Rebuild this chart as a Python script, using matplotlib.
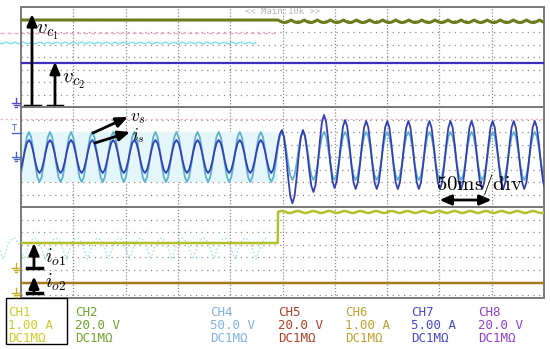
import numpy as np
import matplotlib
matplotlib.use("Agg")
import matplotlib.pyplot as plt
from matplotlib.patches import Rectangle
from matplotlib.lines import Line2D

W, H = 550, 349
plt.rcParams['mathtext.fontset'] = 'cm'

# ---------------- data ----------------
time_div_ms = 50
n_div = 10
t_end = time_div_ms * n_div          # 500 ms on screen

line_period_ms = 20.15               # grid-frequency period
first_peak_ms = 7.6                  # time of first positive peak
step_ms = 245.7                      # load step instant

# panel "divisions" (0 = bottom of panel, 8 = top)
vc1_level = 6.96
vc1_ripple_after = 0.20
vc1_ripple_period_ms = 12.5
vc2_level = 3.52

# i_s (dark blue): extremes per half cycle
is_troughs = [2.72] * 13 + [0.30, 1.20, 1.52] + [1.44] * 10   # k = -1 .. 24
is_peaks = [5.36] * 12 + [6.16, 6.16, 7.36, 6.96] + [6.88] * 9  # k = 0 .. 24
# v_s (light blue)
vs_troughs = [2.00] * 13 + [2.16] * 13
vs_peaks = [6.00] * 25

io1_before = 5.12
io1_after = 7.60
io1_ripple = 0.08
io1_ripple_period_ms = 15.0
io2_level = 1.92

channels = ["CH1", "CH2", "CH4", "CH5", "CH6", "CH7", "CH8"]
scales = ["1.00 A", "20.0 V", "50.0 V", "20.0 V", "1.00 A", "5.00 A", "20.0 V"]
couplings = ["DC1MΩ"] * 7
ch_colors = ["#cccc22", "#6ea82a", "#80b2e0", "#b04028", "#c0a232", "#4848d0", "#9040d0"]
ch_x_px = [8, 75, 210, 278, 345, 411, 478]

# ---------------- helpers ----------------
def extremes_wave(troughs, peaks):
    half = line_period_ms / 2
    times, vals = [], []
    for k in range(len(troughs)):
        tt = first_peak_ms - half + k * line_period_ms
        times.append(tt); vals.append(troughs[k])
        if k < len(peaks):
            times.append(tt + half); vals.append(peaks[k])
    ts, ys = [], []
    u = np.linspace(0, 1, 6)[:-1]
    for i in range(len(times) - 1):
        a, b = vals[i], vals[i + 1]
        ts.extend(times[i] + (times[i + 1] - times[i]) * u)
        ys.extend(a + (b - a) * (1 - np.cos(np.pi * u)) / 2)
    ts.append(times[-1]); ys.append(vals[-1])
    return np.array(ts), np.array(ys)

fig = plt.figure(figsize=(W / 100, H / 100), dpi=100)
fig.patch.set_facecolor("white")

def px_axes(y0, y1):
    return fig.add_axes([21 / W, 1 - y1 / H, (544 - 21) / W, (y1 - y0) / H])

def style(ax, ylo, yhi):
    ax.set_xlim(0, t_end)
    ax.set_ylim(ylo, yhi)
    ax.set_xticks([]); ax.set_yticks([])
    for v in range(1, n_div):
        ax.axvline(v * time_div_ms, color="#8c8c8c", lw=0.9, ls=(0, (1, 1.5)), zorder=0)
    for h in range(1, 8):
        if ylo < h < yhi:
            ax.axhline(h, color="#8c8c8c", lw=0.9, ls=(0, (1, 3.5)), zorder=0)
    for s in ax.spines.values():
        s.set_color("#7a7a7a"); s.set_linewidth(1.4)
    ax.set_facecolor("none")

def fig_line(xs, ys, **kw):
    fig.add_artist(Line2D(np.array(xs) / W, 1 - np.array(ys) / H,
                          transform=fig.transFigure, **kw))

ax_top = px_axes(7, 107)
ax_mid = px_axes(107, 207)
ax_bot = px_axes(207, 298)
style(ax_top, 0, 8)
style(ax_mid, 0, 8)
style(ax_bot, 8 - 91 / 12.5, 8)

t = np.linspace(0, t_end, 2001)

# ---------------- top panel: capacitor voltages ----------------
# faint ghost traces
tg = np.linspace(-20, step_ms, 400)
ax_top.plot(tg, np.full_like(tg, 5.92), color="#f4a8d0", lw=1.0, ls=(0, (3, 2)), clip_on=False, zorder=1)
ax_top.plot(tg[tg < 225], 5.12 + 0.06 * np.sin(2 * np.pi * tg[tg < 225] / 8.0),
            color="#7ee0ea", lw=1.0, clip_on=False, zorder=1)

vc1 = np.where(t < step_ms, vc1_level,
               vc1_level - vc1_ripple_after * np.abs(np.sin(np.pi * (t - step_ms) / vc1_ripple_period_ms)))
ax_top.plot(t, vc1, color="#6b7c1c", lw=2.2, zorder=3)
ax_top.plot(t, np.full_like(t, vc2_level), color="#3d2fc2", lw=1.6, zorder=3)

arrow_kw = dict(arrowstyle="-|>,head_length=0.7,head_width=0.3", lw=2.0, color="k",
                shrinkA=0, shrinkB=0)
ax_top.annotate("", xy=(10.5, 7.44), xytext=(10.5, 0.1), arrowprops=arrow_kw, zorder=5)
ax_top.plot([3.8, 18.5], [0.1, 0.1], color="k", lw=2.5, zorder=5)
ax_top.annotate("", xy=(32.5, 3.62), xytext=(32.5, 0.1), arrowprops=arrow_kw, zorder=5)
ax_top.plot([25.8, 39.5], [0.1, 0.1], color="k", lw=2.5, zorder=5)
ax_top.text(14.5, 5.85, r"$v_{c_1}$", fontsize=15, va="baseline", ha="left", zorder=6)
ax_top.text(39.0, 1.95, r"$v_{c_2}$", fontsize=15, va="baseline", ha="left", zorder=6)
ax_top.text(250, 7.62, "<< Main:10k >>", fontsize=6.5, family="DejaVu Sans Mono",
            color="#b4b4b4", ha="center", va="center", zorder=2)

# ---------------- middle panel: grid voltage and current ----------------
ax_mid.fill_between([0, step_ms], 2.0, 6.0, color="#e4f6fa", lw=0, zorder=0.5)
ax_mid.plot([-20, t_end], [7.04, 7.04], color="#f6b4d4", lw=0.9, ls=(0, (2, 2)), clip_on=False, zorder=1)
tv, yv = extremes_wave(vs_troughs, vs_peaks)
ti, yi = extremes_wave(is_troughs, is_peaks)
ax_mid.plot(tv, yv, color="#5cb2cc", lw=1.3, zorder=2)
ax_mid.plot(ti, yi, color="#3340b4", lw=1.3, zorder=3)

ax_mid.annotate("", xy=(102.2, 7.2), xytext=(68.8, 5.92), arrowprops=arrow_kw, zorder=5)
ax_mid.annotate("", xy=(104.2, 6.0), xytext=(70.7, 5.12), arrowprops=arrow_kw, zorder=5)
ax_mid.text(104.0, 6.88, r"$v_s$", fontsize=12.5, va="baseline", ha="left", zorder=6)
ax_mid.text(106.0, 5.32, r"$i_s$", fontsize=12, va="baseline", ha="left", zorder=6)
ax_mid.text(397.0, 1.36, r"$\mathrm{50ms/div}$", fontsize=15, va="baseline", ha="left", zorder=6)
ax_mid.annotate("", xy=(450, 0.56), xytext=(400, 0.56),
                arrowprops=dict(arrowstyle="<|-|>,head_length=0.7,head_width=0.3", lw=2.0,
                                color="k", shrinkA=0, shrinkB=0), zorder=5)

# ---------------- bottom panel: output currents ----------------
tb = np.linspace(-20, step_ms - 10, 800)
ax_bot.plot(tb, 3.8 + 1.7 * np.abs(np.sin(np.pi * (tb - 3) / line_period_ms)),
            color="#a6e6f2", lw=0.9, ls=(0, (1.5, 1.5)), clip_on=False, zorder=1)
io1 = np.where(t < step_ms, io1_before,
               io1_after + io1_ripple * np.sin(2 * np.pi * (t - step_ms) / io1_ripple_period_ms))
ax_bot.plot(t, io1, color="#b4bf2c", lw=1.8, zorder=3)
ax_bot.plot(t, np.full_like(t, io2_level), color="#a87a20", lw=1.8, zorder=3)

ax_bot.annotate("", xy=(12.4, 5.12), xytext=(12.4, 3.12), arrowprops=arrow_kw, zorder=5)
ax_bot.plot([5.7, 20.0], [3.12, 3.12], color="k", lw=2.5, zorder=5)
ax_bot.annotate("", xy=(12.4, 2.45), xytext=(12.4, 1.12), arrowprops=arrow_kw, zorder=5)
ax_bot.plot([5.7, 20.0], [1.12, 1.12], color="k", lw=2.5, zorder=5)
ax_bot.text(23.0, 3.52, r"$i_{o1}$", fontsize=14, va="baseline", ha="left", zorder=6)
ax_bot.text(23.0, 1.55, r"$i_{o2}$", fontsize=14, va="baseline", ha="left", zorder=6)

# ---------------- left-side channel markers ----------------
def ground(yc, color):
    fig_line([16, 16], [yc - 5, yc], color=color, lw=1)
    fig_line([12, 20], [yc, yc], color=color, lw=1)
    fig_line([13.5, 18.5], [yc + 2, yc + 2], color=color, lw=1)
    fig_line([15, 17], [yc + 4, yc + 4], color=color, lw=1)

ground(103, "#5a46c8")
ground(157, "#4a62c8")
ground(268, "#c4b020")
ground(293, "#c4b020")
fig.text(14 / W, 1 - 129 / H, "T", fontsize=6, color="#4a62c8", va="center", ha="center")
fig_line([12, 21], [133, 133], color="#4a62c8", lw=1)

# ---------------- channel legend ----------------
for name, sc, cp, col, xp in zip(channels, scales, couplings, ch_colors, ch_x_px):
    for txt, yb in ((name, 316.5), (sc, 329.0), (cp, 341.5)):
        fig.text(xp / W, 1 - yb / H, txt, fontsize=9, family="DejaVu Sans Mono",
                 color=col, va="baseline", ha="left")
fig.add_artist(Rectangle((6 / W, 1 - 344 / H), 61 / W, 46 / H, transform=fig.transFigure,
                         fill=False, edgecolor="k", lw=1.0))

fig.savefig("out.png", dpi=100)
